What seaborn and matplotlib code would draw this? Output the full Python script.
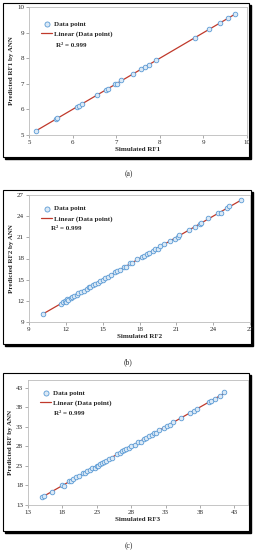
import numpy as np
import pandas as pd
import seaborn as sns
import matplotlib.pyplot as plt
from matplotlib.patches import Rectangle

# data
rf1_sim = [5.15, 5.62, 5.65, 6.10, 6.14, 6.21, 6.55, 6.77, 6.81, 6.97, 7.02, 7.12,
           7.39, 7.56, 7.65, 7.75, 7.92, 8.81, 9.12, 9.38, 9.57, 9.73]
rf1_pred = [5.14, 5.63, 5.66, 6.09, 6.15, 6.20, 6.56, 6.76, 6.80, 6.98, 7.01, 7.13,
            7.38, 7.57, 7.66, 7.74, 7.93, 8.80, 9.13, 9.37, 9.56, 9.72]

rf2_sim = [10.1, 11.6, 11.8, 11.9, 12.0, 12.1, 12.2, 12.4, 12.5, 12.7, 12.9, 13.0,
           13.2, 13.5, 13.7, 13.9, 14.0, 14.2, 14.4, 14.6, 14.8, 15.0, 15.2, 15.4,
           15.7, 16.0, 16.2, 16.4, 16.7, 16.9, 17.2, 17.4, 17.8, 18.2, 18.4, 18.6,
           18.8, 19.1, 19.3, 19.5, 19.7, 20.0, 20.5, 20.9, 21.1, 21.2, 22.0, 22.5,
           22.9, 23.0, 23.6, 24.4, 24.6, 25.1, 25.3, 26.3]
rf2_pred = [10.2, 11.5, 11.8, 12.0, 11.9, 12.2, 12.1, 12.4, 12.6, 12.7, 12.8, 13.1,
            13.2, 13.4, 13.7, 14.0, 13.9, 14.3, 14.4, 14.5, 14.8, 15.0, 15.3, 15.4,
            15.6, 16.1, 16.2, 16.3, 16.8, 16.8, 17.3, 17.3, 17.9, 18.2, 18.3, 18.7,
            18.8, 19.0, 19.4, 19.4, 19.8, 20.0, 20.5, 20.8, 21.1, 21.3, 22.0, 22.4,
            22.9, 23.0, 23.7, 24.5, 24.4, 25.1, 25.4, 26.3]

rf3_sim = [15.0, 15.3, 16.5, 18.0, 18.2, 19.0, 19.3, 19.6, 20.0, 20.4, 21.0, 21.3,
           21.6, 22.0, 22.3, 22.7, 23.0, 23.2, 23.5, 23.8, 24.0, 24.4, 24.8, 25.2,
           26.0, 26.4, 26.7, 27.0, 27.3, 27.7, 28.0, 28.5, 29.0, 29.4, 29.8, 30.2,
           30.6, 31.0, 31.3, 31.6, 32.0, 32.8, 33.2, 33.7, 34.1, 35.3, 36.5, 37.2,
           37.6, 39.4, 39.6, 40.2, 40.9, 41.5]
rf3_pred = [15.0, 15.2, 16.4, 18.2, 17.9, 19.1, 19.2, 19.6, 20.1, 20.3, 21.1, 21.2,
            21.7, 21.9, 22.4, 22.6, 23.1, 23.1, 23.6, 23.7, 24.1, 24.3, 24.9, 25.1,
            26.1, 26.3, 26.8, 27.0, 27.4, 27.6, 28.1, 28.4, 29.1, 29.2, 30.0, 30.1,
            30.7, 30.9, 31.4, 31.5, 32.1, 32.7, 33.3, 33.6, 34.2, 35.2, 36.6, 37.0,
            37.7, 39.3, 39.7, 40.1, 41.0, 41.9]

panels = [
    dict(x=rf1_sim, y=rf1_pred, xlabel='Simulated RF1', ylabel='Predicted RF1 by ANN',
         lim=(5, 10), ticks=[5, 6, 7, 8, 9, 10], cap='(a)',
         ax_px=(29, 7, 247, 135), frame_px=(3, 3, 249, 157), cap_y=174,
         leg_y=0.935, r2=(0.125, 0.70)),
    dict(x=rf2_sim, y=rf2_pred, xlabel='Simulated RF2', ylabel='Predicted RF2 by ANN',
         lim=(9, 27), ticks=[9, 12, 15, 18, 21, 24, 27], cap='(b)',
         ax_px=(29, 195, 250, 322), frame_px=(3, 190, 251, 344), cap_y=362,
         leg_y=0.96, r2=(0.10, 0.74)),
    dict(x=rf3_sim, y=rf3_pred, xlabel='Simulated RF3', ylabel='Predicted RF by ANN',
         lim=(13, 45), ticks=[13, 18, 23, 28, 33, 38, 43], cap='(c)',
         ax_px=(28, 380, 248, 505), frame_px=(3, 373, 249, 531), cap_y=546,
         leg_y=0.965, r2=(0.118, 0.735)),
]

sns.set_style('white')
plt.rcParams['font.family'] = ['Liberation Serif', 'DejaVu Serif']

W, H = 257, 550
fig = plt.figure(figsize=(W / 100, H / 100), dpi=100)

for p in panels:
    # boxed frame with a dark drop shadow
    fx0, fy0, fx1, fy1 = p['frame_px']
    fig.patches.append(Rectangle(((fx0 + 2) / W, 1 - (fy1 + 2) / H), (fx1 - fx0) / W,
                                 (fy1 - fy0) / H, transform=fig.transFigure,
                                 facecolor='black', edgecolor='black', zorder=0))
    fig.patches.append(Rectangle((fx0 / W, 1 - fy1 / H), (fx1 - fx0) / W,
                                 (fy1 - fy0) / H, transform=fig.transFigure,
                                 facecolor='white', edgecolor='black', lw=0.8, zorder=1))

    x0, y0, x1, y1 = p['ax_px']
    ax = fig.add_axes([x0 / W, 1 - y1 / H, (x1 - x0) / W, (y1 - y0) / H])
    ax.set_zorder(2)
    df = pd.DataFrame({'sim': p['x'], 'pred': p['y']})

    # linear trend line fitted to the points
    slope, icpt = np.polyfit(df['sim'], df['pred'], 1)
    xs = np.array([df['sim'].min(), df['sim'].max()])
    ax.plot(xs, slope * xs + icpt, color='#c0392b', lw=0.9,
            label='Linear (Data point)', zorder=2)

    sns.scatterplot(data=df, x='sim', y='pred', ax=ax, s=11, marker='o',
                    facecolor='#dbe9f6', edgecolor='#5b9bd5', linewidth=0.6,
                    label='Data point', zorder=3)
    ax.set_xlim(p['lim'])
    ax.set_ylim(p['lim'])
    ax.set_xticks(p['ticks'])
    ax.set_yticks(p['ticks'])
    ax.tick_params(labelsize=5, length=2, width=0.5, color='#888888', pad=1.5,
                   direction='out', bottom=True, left=True)
    for s in ax.spines.values():
        s.set_color('#bbbbbb')
        s.set_linewidth(0.6)
    ax.set_xlabel(p['xlabel'], fontsize=5, fontweight='bold', labelpad=1.5)
    ax.set_ylabel(p['ylabel'], fontsize=5, fontweight='bold', labelpad=2)
    h, l = ax.get_legend_handles_labels()
    order = [l.index('Data point'), l.index('Linear (Data point)')]
    ax.legend([h[i] for i in order], [l[i] for i in order], loc='upper left',
              bbox_to_anchor=(0.03, p['leg_y']), frameon=False,
              prop=dict(size=5, weight='bold'), handlelength=1.6, handletextpad=0.3,
              labelspacing=0.55, borderpad=0.3, markerscale=1.1)
    ax.text(p['r2'][0], p['r2'][1], 'R² = 0.999', transform=ax.transAxes,
            fontsize=5, fontweight='bold', va='center')
    fig.text(0.5, 1 - p['cap_y'] / H, p['cap'], ha='center', va='center', fontsize=5.5)

fig.savefig('out.png', dpi=100)
